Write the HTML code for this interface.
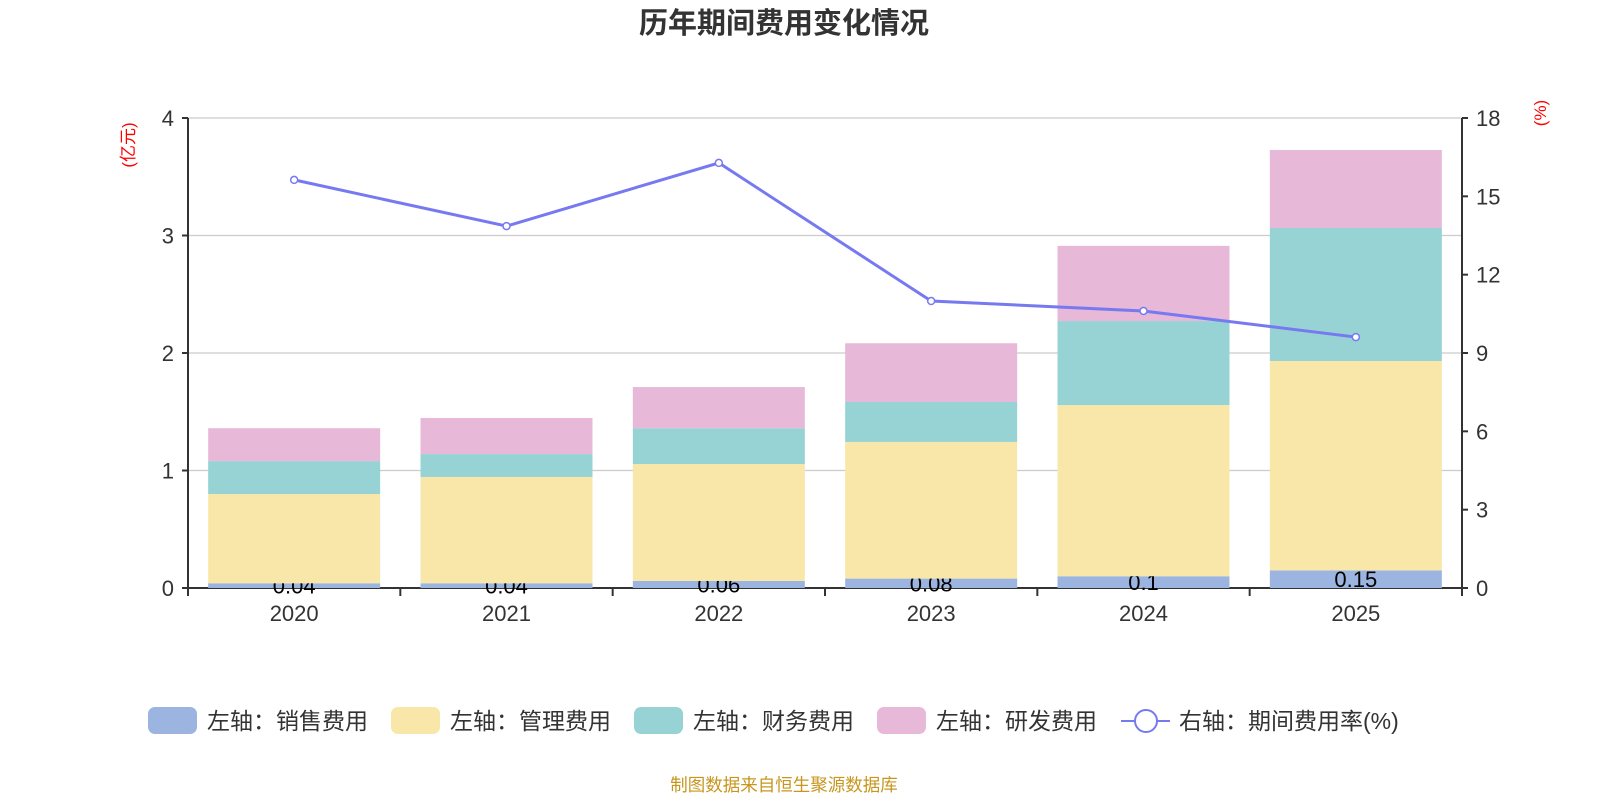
<!DOCTYPE html>
<html><head><meta charset="utf-8"><style>
body{margin:0;background:#fff;font-family:"Liberation Sans","Noto Sans CJK SC",sans-serif}
</style></head><body>
<svg id="c" width="1600" height="800" xmlns="http://www.w3.org/2000/svg" font-family="Liberation Sans, Noto Sans CJK SC, sans-serif">
<text x="784" y="33" text-anchor="middle" font-size="29" font-weight="bold" fill="#333">历年期间费用变化情况</text>
<text transform="translate(134,145) rotate(-90)" text-anchor="middle" font-size="17" fill="#f00">(亿元)</text>
<text transform="translate(1546,113) rotate(-90)" text-anchor="middle" font-size="17" fill="#f00">(%)</text>
<g id="grid"></g><g id="bars"></g><g id="axes"></g><g id="line"></g>
<g id="legend" font-size="23" fill="#333"></g>
<text x="784" y="791" text-anchor="middle" font-size="17.5" fill="#c8961e">制图数据来自恒生聚源数据库</text>
</svg>
<script>
const categories=['2020','2021','2022','2023','2024','2025'];
const sales=[0.04,0.04,0.06,0.08,0.10,0.15];
const mgmt=[0.76,0.905,0.995,1.163,1.457,1.782];
const fin=[0.28,0.195,0.305,0.34,0.715,1.132];
const rd=[0.28,0.307,0.35,0.50,0.64,0.664];
const rate=[15.63,13.86,16.28,10.99,10.61,9.61];
const salesLabels=['0.04','0.04','0.06','0.08','0.1','0.15'];
const leftTicks=[0,1,2,3,4];
const rightTicks=[0,3,6,9,12,15,18];
const NS='http://www.w3.org/2000/svg';
const X0=188,X1=1462,Y0=588,Y1=118;
const bw=(X1-X0)/categories.length;
const yL=v=>Y0-(Y0-Y1)*v/4, yR=v=>Y0-(Y0-Y1)*v/18, xc=i=>X0+bw*(i+0.5);
function el(t,a,p){const e=document.createElementNS(NS,t);for(const k in a)e.setAttribute(k,a[k]);document.getElementById(p).appendChild(e);return e;}
leftTicks.forEach(v=>{
 const g=el('line',{x1:X0,x2:X1,y1:yL(v),y2:yL(v),stroke:v?'#ccc':'#333','stroke-width':v?1.3:2},'grid');
 
 
 const t=el('text',{x:X0-14,y:yL(v)+8,'text-anchor':'end','font-size':22,fill:'#333'},'axes');t.textContent=v;
 
 
 el('line',{x1:X0-6,x2:X0,y1:yL(v),y2:yL(v),stroke:'#333','stroke-width':2},'axes');
});
rightTicks.forEach(v=>{
 const t=el('text',{x:X1+14,y:yR(v)+8,'font-size':22,fill:'#333'},'axes');t.textContent=v;
 
 
 el('line',{x1:X1,x2:X1+6,y1:yR(v),y2:yR(v),stroke:'#333','stroke-width':2},'axes');
});
el('line',{x1:X0,x2:X0,y1:Y1,y2:Y0+6,stroke:'#333','stroke-width':2},'axes');
el('line',{x1:X1,x2:X1,y1:Y1,y2:Y0+6,stroke:'#333','stroke-width':2},'axes');
categories.forEach((c,i)=>{
 const t=el('text',{x:xc(i),y:621,'text-anchor':'middle','font-size':22,fill:'#333'},'axes');t.textContent=c;
 
 
});
for(let i=0;i<=categories.length;i++)el('line',{x1:X0+bw*i,x2:X0+bw*i,y1:Y0,y2:Y0+8,stroke:'#333','stroke-width':2},'axes');
const series=[[sales,'#9bb5e0','sales'],[mgmt,'#f8e7a8','mgmt'],[fin,'#97d3d4','finance'],[rd,'#e7b8d7','rd']];
const bwid=172;
categories.forEach((c,i)=>{
 let base=0;
 series.forEach(([arr,col,nm],k)=>{
  const r=el('rect',{x:xc(i)-bwid/2,y:yL(base+arr[i]),width:bwid,height:yL(base)-yL(base+arr[i]),fill:col},'bars');
  
  
  if(k===0){const t=el('text',{x:xc(i),y:yL(base+arr[i]/2)+8,'text-anchor':'middle','font-size':22,fill:'#000'},'bars');t.textContent=salesLabels[i];
   
   }
  base+=arr[i];
 });
});
const pl=el('polyline',{points:rate.map((v,i)=>xc(i)+','+yR(v)).join(' '),fill:'none',stroke:'#7679f0','stroke-width':3},'line');


rate.forEach((v,i)=>{const p=el('circle',{cx:xc(i),cy:yR(v),r:3.5,fill:'#fff',stroke:'#7679f0','stroke-width':1.5},'line');
 
 });
const leg=[['#9bb5e0','左轴：销售费用',148],['#f8e7a8','左轴：管理费用',391],['#97d3d4','左轴：财务费用',634],['#e7b8d7','左轴：研发费用',877]];
leg.forEach(([col,txt,x])=>{
 const r=el('rect',{x:x,y:707,width:49,height:27,rx:7,fill:col},'legend');
 
 
 const t=el('text',{x:x+59,y:729},'legend');t.textContent=txt;
 
 
});
el('line',{x1:1121,x2:1170,y1:721,y2:721,stroke:'#7679f0','stroke-width':2},'legend');
el('circle',{cx:1146,cy:721,r:11,fill:'#fff',stroke:'#7679f0','stroke-width':2},'legend');
const lt=el('text',{x:1179,y:729},'legend');lt.textContent='右轴：期间费用率(%)';


</script>
</body></html>
